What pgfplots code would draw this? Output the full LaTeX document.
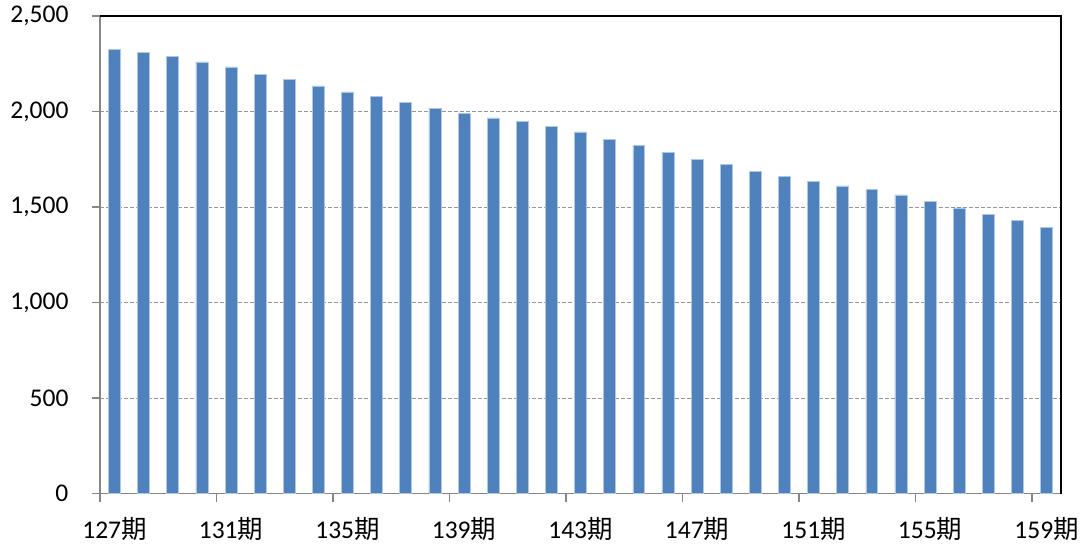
\documentclass[border=0pt]{standalone}
\usepackage{pgfplots}
\pgfplotsset{compat=1.18}
\usepackage{fontspec}
\setmainfont{Carlito}
\newfontfamily\cjk{Noto Sans CJK JP}
\definecolor{barblue}{RGB}{79,129,189}
\definecolor{baredge}{RGB}{175,198,228}
\definecolor{axgray}{RGB}{134,134,134}
\definecolor{gridgray}{RGB}{150,150,150}
\begin{document}
\begin{tikzpicture}
\begin{axis}[
  scale only axis, width=962pt, height=478pt,
  at={(0,0)}, anchor=south west,
  xmin=-0.5, xmax=32.5, ymin=0, ymax=2500,
  axis x line*=bottom, axis y line*=left,
  axis line style={axgray, line width=1.2pt},
  clip=false,
  ytick={0,500,...,2500},
  xtick={0,4,...,32},
  xticklabels={{127\cjk 期},{131\cjk 期},{135\cjk 期},{139\cjk 期},{143\cjk 期},{147\cjk 期},{151\cjk 期},{155\cjk 期},{159\cjk 期}},
  minor xtick={-0.5,3.5,...,31.5},
  tick align=outside,
  major tick length=8pt, minor tick length=8pt,
  major x tick style={draw=none},
  minor x tick style={draw=axgray, line width=1.2pt},
  major y tick style={draw=axgray, line width=1.2pt},
  ymajorgrids,
  major grid style={draw=gridgray, line width=0.8pt, dash pattern=on 4pt off 2pt},
  tick label style={font=\fontsize{25.5}{30}\selectfont},
  /pgf/number format/assume math mode=true,
  /pgf/number format/1000 sep={,},
  yticklabel style={xshift=-20pt},
  xticklabel style={yshift=-12pt},
]
\addplot[ybar, bar width=0.41, fill=barblue, draw=baredge, line width=0.6pt] coordinates {
(0,2326) (1,2311) (2,2288) (3,2260) (4,2233) (5,2196) (6,2169) (7,2134)
(8,2103) (9,2079) (10,2049) (11,2016) (12,1989) (13,1967) (14,1949) (15,1923)
(16,1893) (17,1856) (18,1823) (19,1788) (20,1751) (21,1723) (22,1688) (23,1659)
(24,1636) (25,1611) (26,1592) (27,1563) (28,1528) (29,1495) (30,1461) (31,1428)
(32,1393)};
\draw[black, line width=1.5pt] (rel axis cs:0,1) -- (rel axis cs:1,1) -- (rel axis cs:1,0);
\end{axis}
\path (-100pt,-49pt) rectangle (982pt,494pt);
\end{tikzpicture}
\end{document}
